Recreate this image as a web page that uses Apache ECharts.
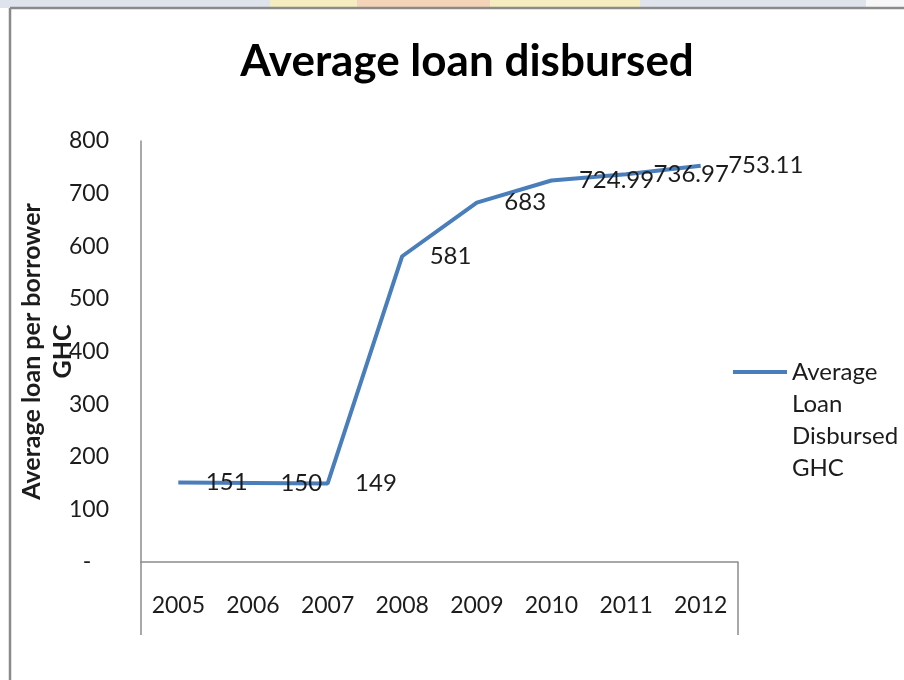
<!DOCTYPE html>
<html>
<head>
<meta charset="utf-8">
<script src="https://cdn.jsdelivr.net/npm/echarts@6/dist/echarts.min.js"></script>
<style>
html,body{margin:0;padding:0;background:#fff;}
#chart{width:904px;height:680px;}
</style>
</head>
<body>
<div id="chart"></div>
<script>
const years = ['2005','2006','2007','2008','2009','2010','2011','2012'];
const loanValues = [151, 150, 149, 581, 683, 724.99, 736.97, 753.11];
const loanLabels = ['151','150','149','581','683','724.99','736.97','753.11'];
const seriesName = 'Average\nLoan\nDisbursed\nGHC';
const yTicks = [0,100,200,300,400,500,600,700,800];

const FONT = 'Lato';
const TXT = '#1c1c1c';
const BLUE = '#4a7ebb';

const chart = echarts.init(document.getElementById('chart'));
chart.setOption({
  backgroundColor: '#ffffff',
  animation: false,
  title: {
    text: 'Average loan disbursed',
    left: 462,
    textAlign: 'center',
    top: 35,
    textStyle: {fontFamily: FONT, fontWeight: 'bold', fontSize: 44, color: '#000'}
  },
  grid: {left: 141, top: 141, right: 166, bottom: 118, containLabel: false, outerBoundsMode: 'none'},
  legend: {
    orient: 'vertical',
    left: 733,
    top: 260,
    padding: 0,
    itemWidth: 54,
    itemHeight: 4,
    data: [{name: seriesName, icon: 'rect', itemStyle: {color: BLUE, opacity: 1}}],
    formatter: function (n) { return '\n\n\n' + n; },
    textStyle: {fontFamily: FONT, fontSize: 24, color: TXT, lineHeight: 32}
  },
  xAxis: {
    type: 'category',
    data: years,
    boundaryGap: true,
    axisLine: {lineStyle: {color: '#8c8c8c', width: 1.5}},
    axisTick: {show: true, length: 73, interval: function (i) { return i === 0; }, lineStyle: {color: '#8c8c8c', width: 1.5}},
    axisLabel: {interval: 0, margin: 32, fontFamily: FONT, fontSize: 23, color: TXT}
  },
  yAxis: {
    type: 'value',
    min: 0,
    max: 800,
    interval: 100,
    name: 'Average loan per borrower\nGHC',
    nameLocation: 'middle',
    nameRotate: 90,
    nameGap: 63,
    nameMoveOverlap: false,
    nameTextStyle: {fontFamily: FONT, fontWeight: 'bold', fontSize: 25, color: TXT, lineHeight: 31},
    axisLine: {show: true, lineStyle: {color: '#8c8c8c', width: 1.5}},
    axisTick: {show: false},
    splitLine: {show: false},
    axisLabel: {
      margin: 32,
      fontFamily: FONT, fontSize: 23, color: TXT,
      formatter: function (v) { return v === 0 ? '-   ' : String(v); }
    }
  },
  series: [{
    name: seriesName,
    type: 'line',
    data: loanValues,
    symbol: 'circle',
    symbolSize: 1,
    showSymbol: true,
    lineStyle: {color: BLUE, width: 4},
    itemStyle: {color: 'rgba(74,126,187,0)'},
    label: {
      show: true,
      position: 'right',
      distance: 27,
      offset: [0, 3],
      fontFamily: FONT, fontSize: 24, color: TXT,
      formatter: function (p) { return loanLabels[p.dataIndex]; }
    },
    labelLayout: {hideOverlap: false}
  }],
  graphic: [
    {type: 'rect', shape: {x: 0, y: 0, width: 904, height: 8}, style: {fill: '#dfe3ec'}, silent: true},
    {type: 'rect', shape: {x: 270, y: 0, width: 370, height: 8}, style: {fill: '#f5ecc0'}, silent: true},
    {type: 'rect', shape: {x: 357, y: 0, width: 133, height: 8}, style: {fill: '#f3d4b8'}, silent: true},
    {type: 'rect', shape: {x: 866, y: 0, width: 38, height: 8}, style: {fill: '#f7f7f9'}, silent: true},
    {type: 'line', shape: {x1: 10, y1: 8, x2: 904, y2: 8}, style: {stroke: '#8a8a8a', lineWidth: 2.5}, silent: true},
    {type: 'line', shape: {x1: 10, y1: 8, x2: 10, y2: 680}, style: {stroke: '#8a8a8a', lineWidth: 2.5}, silent: true}
  ]
});
</script>
</body>
</html>
